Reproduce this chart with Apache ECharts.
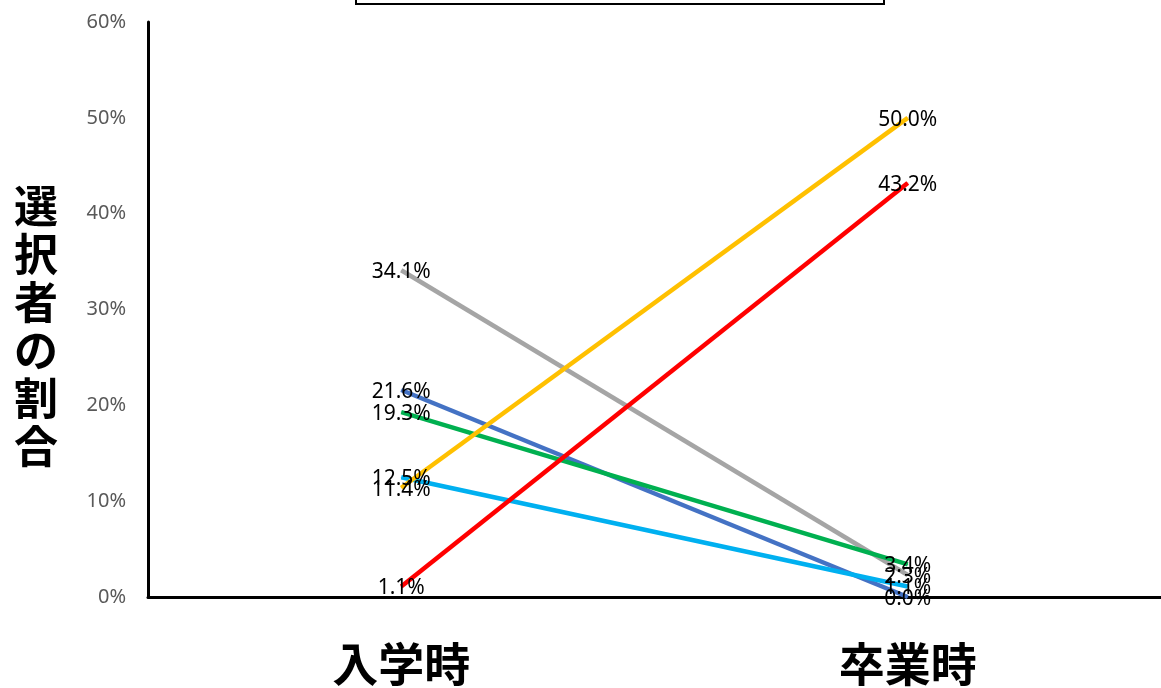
<!DOCTYPE html>
<html>
<head>
<meta charset="utf-8">
<script src="https://cdn.jsdelivr.net/npm/echarts@6/dist/echarts.min.js"></script>
<style>
  html, body { margin: 0; padding: 0; background: #fff; }
  #chart { width: 1161px; height: 688px; }
</style>
</head>
<body>
<div id="chart"></div>
<script>
// Share of respondents choosing each option, at entry and at graduation
const categories = ['入学時', '卒業時'];
const yTicks = [0, 10, 20, 30, 40, 50, 60];
const seriesNames = ['A', 'B', 'C', 'D', 'E', 'F'];
const grayValues = [34.1, 2.3];
const blueValues = [21.6, 0.0];
const greenValues = [19.3, 3.4];
const skyValues = [12.5, 1.1];
const yellowValues = [11.4, 50.0];
const redValues = [1.1, 43.2];
const yAxisTitle = '選択者の割合';

const lineDefs = [
  { name: seriesNames[0], data: grayValues, color: '#A5A5A5' },
  { name: seriesNames[1], data: blueValues, color: '#4472C4' },
  { name: seriesNames[2], data: greenValues, color: '#00B050' },
  { name: seriesNames[3], data: skyValues, color: '#00B0F0' },
  { name: seriesNames[4], data: yellowValues, color: '#FFC000' },
  { name: seriesNames[5], data: redValues, color: '#FF0000' }
];

const chart = echarts.init(document.getElementById('chart'));
chart.setOption({
  animation: false,
  backgroundColor: '#ffffff',
  grid: { left: 148, right: 0, top: 22, bottom: 91, containLabel: false },
  xAxis: {
    type: 'category',
    data: categories,
    boundaryGap: true,
    axisLine: { lineStyle: { color: '#000', width: 3 } },
    axisTick: { show: false },
    axisLabel: {
      margin: 44,
      fontSize: 46,
      fontWeight: 'bold',
      color: '#000',
      fontFamily: 'Noto Sans CJK JP'
    }
  },
  yAxis: {
    type: 'value',
    min: yTicks[0],
    max: yTicks[yTicks.length - 1],
    interval: 10,
    axisLine: { show: true, lineStyle: { color: '#000', width: 3 } },
    axisTick: { show: false },
    splitLine: { show: false },
    axisLabel: {
      margin: 22,
      fontSize: 20,
      color: '#595959',
      fontFamily: 'Noto Sans',
      formatter: v => v + '%'
    }
  },
  graphic: [
    {
      type: 'rect',
      shape: { x: 356, y: -30, width: 528, height: 34 },
      style: { fill: '#fff', stroke: '#000', lineWidth: 2 }
    },
    {
      type: 'text',
      x: 36,
      y: 182,
      style: {
        text: yAxisTitle.split('').join('\n'),
        fontSize: 44,
        lineHeight: 48,
        fontWeight: 'bold',
        fill: '#000',
        fontFamily: 'Noto Sans CJK JP',
        align: 'center',
        verticalAlign: 'top'
      }
    }
  ],
  series: lineDefs.map(d => ({
    name: d.name,
    type: 'line',
    data: d.data,
    symbol: 'circle',
    symbolSize: 1,
    showSymbol: true,
    lineStyle: { color: d.color, width: 4.5 },
    itemStyle: { color: d.color },
    label: {
      show: true,
      position: 'inside',
      offset: [0, 2],
      color: '#000',
      fontSize: 21,
      fontFamily: 'Noto Sans',
      formatter: p => p.value.toFixed(1) + '%'
    }
  }))
});
</script>
</body>
</html>
